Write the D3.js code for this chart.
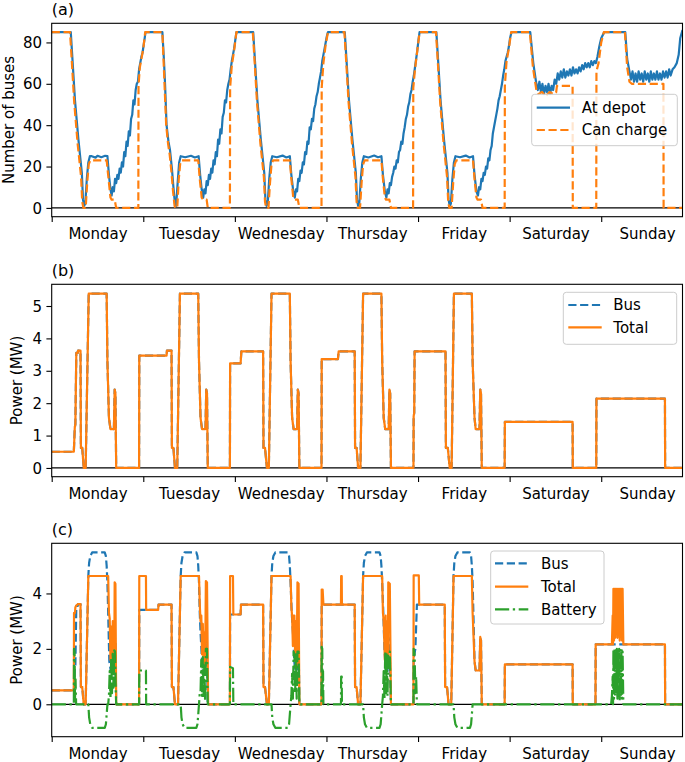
<!DOCTYPE html>
<html><head><meta charset="utf-8">
<script src="https://cdnjs.cloudflare.com/ajax/libs/d3/7.8.5/d3.min.js"></script>
<style>body{margin:0;background:#fff}svg text{font-family:"DejaVu Sans";fill:#000}</style>
</head><body>
<svg id="chart" width="685" height="762"></svg>
<script>
// ---------- DATA (hours since Monday 00:00, value) ----------
const dayNames = ["Monday","Tuesday","Wednesday","Thursday","Friday","Saturday","Sunday"];
const dayTicks = [0,24,48,72,96,120,144];
const busesTicks = [0,20,40,60,80];
const powerTicksB = [0,1,2,3,4,5];
const powerTicksC = [0,2,4];

const atDepot = [
[0,85],[5.0,85],[5.5,70],[6.1,52],[7.0,33],[7.9,17],[8.2,4],[8.5,1],[8.8,2],[9.2,14],[9.6,22],[10.0,25],[10.5,25],[11.5,24.3],[12.0,25.2],[13.0,24.5],[14.0,25.2],[14.6,25],[15.0,16],[15.4,9],
[15.7,6],[16.0,10],[16.3,8],[16.6,14],[16.9,12],[17.2,16],[17.5,14],[17.8,19],[18.1,17],[18.4,22],[18.7,20],[19.0,27],[19.3,25],[19.6,32],[19.9,30],[20.2,37],[20.5,35],[20.8,43],[21.1,45],[21.4,52],[21.7,50],[22.0,57],[22.3,60],[22.6,61],[22.9,67],[23.2,70],[23.5,73],[23.8,75],[24.2,80],[24.6,85],
[29.0,85],[29.4,72],[29.7,60],[30.1,40],[30.6,32],[31.0,28],[31.5,19],[31.9,10],[32.3,2],[32.6,1],[33.0,12],[33.4,22],[33.8,25],[35.0,24.5],[36.5,25.2],[37.5,24.4],[38.5,25],[38.9,16],[39.3,9],
[39.7,5],[40.0,9],[40.3,7],[40.6,13],[40.9,11],[41.2,16],[41.5,14],[41.8,19],[42.1,17],[42.4,23],[42.7,21],[43.0,27],[43.3,25],[43.6,33],[43.9,31],[44.2,38],[44.5,36],[44.8,44],[45.1,46],[45.4,52],[45.7,51],[46.0,57],[46.3,60],[46.6,62],[46.9,67],[47.2,71],[47.5,74],[47.8,77],[48.1,81],[48.4,85],
[52.8,85],[53.3,70],[53.9,52],[54.8,33],[55.7,17],[56.0,4],[56.3,1],[56.6,2],[57.0,14],[57.4,22],[57.8,25],[59.0,24.5],[60.5,25.3],[61.5,24.4],[62.4,25],[62.8,16],[63.3,8],
[63.7,5],[64.0,9],[64.3,8],[64.6,14],[64.9,13],[65.2,18],[65.5,17],[65.8,22],[66.1,21],[66.4,27],[66.7,26],[67.0,32],[67.3,31],[67.6,39],[67.9,38],[68.2,43],[68.5,42],[68.8,48],[69.1,50],[69.4,54],[69.7,56],[70.0,60],[70.3,63],[70.6,66],[70.9,71],[71.2,74],[71.5,77],[71.8,80],[72.1,83],[72.4,85],
[76.8,85],[77.3,70],[77.9,52],[78.8,33],[79.7,17],[80.0,4],[80.3,1],[80.6,2],[81.0,14],[81.4,22],[81.8,25],[83.0,24.4],[84.5,25.3],[85.5,24.5],[86.4,25],[86.8,16],[87.3,8],
[87.7,5],[88.0,9],[88.3,7],[88.6,12],[88.9,11],[89.2,15],[89.5,17],[89.8,20],[90.1,19],[90.4,23],[90.7,22],[91.0,27],[91.3,28],[91.6,32],[91.9,31],[92.2,36],[92.5,39],[92.8,43],[93.1,45],[93.4,49],[93.7,51],[94.0,55],[94.3,57],[94.6,61],[94.9,64],[95.2,68],[95.5,72],[95.8,76],[96.1,81],[96.4,85],
[100.8,85],[101.3,70],[101.9,52],[102.8,33],[103.7,17],[104.0,4],[104.3,1],[104.6,2],[105.0,14],[105.4,22],[105.8,25],[107.0,24.5],[108.5,25.3],[109.5,24.4],[110.4,25],[110.8,16],[111.3,8],
[111.7,6],[112.0,10],[112.3,9],[112.6,14],[112.9,13],[113.2,17],[113.5,16],[113.8,20],[114.1,19],[114.4,24],[114.7,23],[115.0,28],[115.3,30],[115.6,36],[115.9,39],[116.2,42],[116.5,45],[116.8,48],[117.1,52],[117.4,54],[117.7,57],[118.0,60],[118.3,64],[118.6,67],[118.9,71],[119.2,73],[119.5,75],[119.8,78],[120.1,82],[120.5,85],
[125.4,85],[126.2,70],[127.0,60],[127.4,57],[127.8,61],[128.2,56],[128.6,60],[129.0,55],[129.4,59],[129.8,56],[130.2,60],[130.6,55],[131.0,59],[131.4,57],[131.8,62],[132.2,60],[132.6,65],[133.0,62],[133.4,66],[133.8,63],[134.2,67],[134.6,63],[135.0,66],[135.4,64],[135.8,67],[136.2,64],[136.6,68],[137.0,65],[137.4,67],[137.8,65],[138.2,68],[138.6,66],[139.0,69],[139.4,67],[139.8,70],[140.2,68],[140.6,70],[141.0,68],[141.4,71],[141.8,69],[142.2,71],[142.6,70],[143.0,73],[143.5,78],[144.0,82],[144.8,85],
[150.3,85],[150.8,72],[151.4,66],[151.8,62],[152.2,66],[152.6,61],[153.0,65],[153.4,61],[153.8,66],[154.2,62],[154.6,65],[155.0,61],[155.4,66],[155.8,62],[156.2,65],[156.6,61],[157.0,66],[157.4,62],[157.8,65],[158.2,62],[158.6,66],[159.0,62],[159.4,65],[159.8,62],[160.2,66],[160.6,63],[161.0,66],[161.4,63],[161.8,67],[162.2,64],[162.7,67],[163.2,68],[163.8,70],[164.3,74],[164.7,82],[165.3,86]
];

const canCharge = [
[0,85],[4.8,85],[5.3,70],[5.9,51],[6.8,31],[7.7,15],[8.0,3],[8.3,0],[8.9,0],[9.3,12],[9.7,21],[10.1,23],[14.4,23],[14.9,14],[15.4,5],[15.7,4],[16.5,4],[16.9,0],[22.7,0],[22.75,59],[23.1,68],[23.6,73],[24.0,77],[24.5,85],
[29.0,85],[29.3,72],[29.6,58],[30.0,40],[30.5,31],[30.9,26],[31.4,17],[31.8,8],[32.2,1],[32.4,0],[32.9,0],[33.3,14],[33.7,22],[34.0,23],[38.4,23],[38.8,14],[39.3,5],[39.7,4],[40.6,4],[40.9,0],[46.7,0],[46.75,58],[47.2,69],[47.8,76],[48.4,85],
[52.7,85],[53.2,70],[53.8,51],[54.7,31],[55.6,15],[55.9,3],[56.2,0],[56.8,0],[57.2,12],[57.6,21],[58.0,23],[62.4,23],[62.8,14],[63.3,5],[63.6,4],[64.5,4],[64.9,0],[70.7,0],[70.75,58],[71.2,70],[71.8,79],[72.4,85],
[76.7,85],[77.2,70],[77.8,51],[78.7,31],[79.6,15],[79.9,3],[80.2,0],[80.8,0],[81.2,12],[81.6,21],[82.0,23],[86.4,23],[86.8,14],[87.3,5],[87.6,4],[88.5,4],[88.9,0],[94.7,0],[94.75,58],[95.2,67],[95.8,76],[96.4,85],
[100.7,85],[101.2,70],[101.8,51],[102.7,31],[103.6,15],[103.9,3],[104.2,0],[104.8,0],[105.2,12],[105.6,21],[106.0,23],[110.4,23],[110.8,14],[111.3,5],[111.6,4],[112.5,4],[112.9,0],[118.7,0],[118.75,59],[119.2,71],[119.8,77],[120.4,85],
[125.3,85],[126.1,68],[127.0,57],[127.5,55],[128.5,56],[129.5,54],[130.5,56],[131.5,55],[132.2,56],[132.4,59],[136.5,59],[136.55,0],[142.7,0],[142.75,66],[143.3,70],[144.0,80],[144.7,85],
[150.2,85],[150.8,68],[151.4,61],[152.0,60],[160.3,60],[160.35,0],[165.3,0]
];

const busB = [
[0,0.5],[5.8,0.5],[6.05,1.25],[6.2,1.35],[6.45,3.55],[6.8,3.55],[6.9,3.62],[7.55,3.62],[7.65,0.62],[8.0,0.62],[8.4,0],[8.9,0],[9.7,5.38],[14.4,5.38],[14.6,3.3],[15.0,1.55],[15.4,1.2],[16.3,1.2],[16.5,2.42],[16.7,2.3],[16.9,0],
[22.9,0],[22.95,3.47],[30.1,3.47],[30.2,3.62],[31.4,3.62],[31.5,0.62],[31.9,0.62],[32.3,0],[32.9,0],[33.6,5.38],[38.4,5.38],[38.6,3.3],[39.0,1.55],[39.4,1.2],[40.3,1.2],[40.5,2.42],[40.7,2.3],[40.9,0],
[46.7,0],[46.75,3.23],[49.5,3.23],[49.7,3.6],[55.4,3.6],[55.5,0.62],[55.9,0.62],[56.4,0],[56.9,0],[57.6,5.38],[62.4,5.38],[62.6,3.3],[63.0,1.55],[63.4,1.2],[64.3,1.2],[64.5,2.42],[64.7,2.3],[64.9,0],
[70.7,0],[70.75,3.36],[75.0,3.36],[75.2,3.6],[79.4,3.6],[79.5,0.62],[79.9,0.62],[80.3,0],[80.9,0],[81.6,5.38],[86.4,5.38],[86.6,3.3],[87.0,1.55],[87.4,1.2],[88.3,1.2],[88.5,2.42],[88.7,2.3],[88.9,0],
[94.8,0],[94.85,1.6],[95.0,1.7],[95.1,3.6],[103.2,3.6],[103.3,0.62],[103.8,0.62],[104.3,0],[104.8,0],[105.4,5.38],[110.1,5.38],[110.3,3.3],[110.8,1.55],[111.1,1.2],[112.1,1.2],[112.3,2.42],[112.5,2.3],[112.7,0],
[118.7,0],[118.75,1.42],[136.5,1.42],[136.55,0],[142.7,0],[142.75,2.14],[160.7,2.14],[160.75,0],[165.3,0]
];
const totalB = busB.map(d => d.slice()); // identical in the picture

const busC = [
[0,0.5],[5.8,0.5],[6.05,1.25],[6.2,1.35],[6.45,3.55],[6.8,3.55],[6.9,3.62],[7.55,3.62],[7.65,0.62],[8.0,0.62],[8.4,0],[8.9,0],[9.6,4.63],[9.8,5.1],[10.1,5.35],[10.6,5.48],[13.9,5.48],[14.2,5.35],[14.4,5.0],[14.6,4.4],[14.8,3.3],[15.1,1.55],[15.5,1.2],[16.3,1.2],[16.5,2.42],[16.7,2.3],[16.9,0],
[22.9,0],[22.95,3.41],[27.9,3.41],[28.0,3.6],[31.4,3.6],[31.5,0.62],[31.9,0.62],[32.3,0],[33.1,0],[33.8,4.63],[34.0,5.1],[34.3,5.35],[34.8,5.48],[37.9,5.48],[38.2,5.35],[38.4,5.0],[38.6,4.4],[38.8,3.3],[39.0,2.6],[39.4,1.55],[39.6,1.2],[40.2,1.2],[40.4,2.42],[40.6,2.3],[40.9,0],
[46.7,0],[46.75,3.24],[49.5,3.24],[49.6,3.6],[55.4,3.6],[55.5,0.62],[55.9,0.62],[56.4,0],[56.9,0],[57.6,4.63],[57.8,5.1],[58.1,5.35],[58.6,5.48],[61.9,5.48],[62.2,5.35],[62.4,5.0],[62.6,4.4],[62.9,3.3],[63.3,2.4],[63.6,1.5],[63.9,1.2],[64.3,1.2],[64.5,2.42],[64.7,2.3],[64.9,0],
[70.7,0],[70.75,3.6],[79.4,3.6],[79.5,0.62],[79.9,0.62],[80.3,0],[80.9,0],[81.6,4.63],[81.8,5.1],[82.1,5.35],[82.6,5.48],[85.9,5.48],[86.2,5.35],[86.4,5.0],[86.6,4.4],[86.9,3.3],[87.2,2.0],[87.5,1.3],[88.0,1.2],[88.2,2.42],[88.5,2.3],[88.9,0],
[94.8,0],[94.85,1.65],[95.3,2.0],[95.7,3.6],[103.0,3.6],[103.1,0.62],[103.6,0.62],[104.0,0],[104.7,0],[105.3,4.63],[105.5,5.1],[105.8,5.35],[106.3,5.48],[109.6,5.48],[109.9,5.35],[110.1,5.0],[110.3,4.4],[110.5,3.3],[110.8,1.55],[111.1,1.22],[112.1,1.22],[112.3,2.43],[112.5,2.3],[112.7,0],
[118.7,0],[118.75,1.44],[136.5,1.44],[136.55,0],[142.5,0],[142.55,2.16],[160.7,2.16],[160.75,0],[165.3,0]
];

const totalC = [
[0,0.5],[5.8,0.5],[5.85,3.3],[6.1,3.3],[6.2,3.5],[6.45,3.56],[6.9,3.62],[7.55,3.62],[7.65,0.62],[8.0,0.62],[8.4,0],[8.9,0],[9.6,4.63],[14.8,4.63],[15.0,3.3],[15.2,3.1],[15.4,1.6],[15.6,2.8],[15.8,1.3],[16.0,3.0],[16.2,1.3],[16.4,1.3],[16.5,4.4],[16.7,4.35],[16.9,0],
[22.9,0],[22.95,4.63],[24.7,4.63],[24.75,3.41],[27.9,3.41],[28.0,3.6],[31.4,3.6],[31.5,0.62],[31.9,0.62],[32.3,0],[33.1,0],[33.8,4.63],[38.6,4.63],[38.8,3.6],[39.0,3.0],[39.2,3.2],[39.4,1.8],[39.6,2.9],[39.8,1.5],[40.0,2.6],[40.2,1.3],[40.4,4.45],[40.7,4.4],[41.0,0],
[46.7,0],[46.75,4.63],[47.5,4.63],[47.6,3.24],[49.5,3.24],[49.6,3.6],[55.4,3.6],[55.5,0.62],[55.9,0.62],[56.4,0],[56.9,0],[57.6,4.63],[62.6,4.63],[62.8,3.5],[63.0,3.2],[63.2,2.1],[63.4,3.2],[63.6,3.2],[63.8,1.6],[64.0,3.0],[64.2,1.4],[64.4,4.4],[64.7,4.35],[64.9,0],
[70.7,0],[70.75,4.14],[71.0,4.14],[71.2,3.6],[75.8,3.6],[75.85,4.63],[76.0,4.63],[76.05,3.6],[79.4,3.6],[79.5,0.62],[79.9,0.62],[80.3,0],[80.9,0],[81.6,4.63],[86.6,4.63],[86.8,3.3],[87.0,3.0],[87.3,1.6],[87.5,3.2],[87.7,1.4],[87.9,3.0],[88.1,1.3],[88.2,4.4],[88.6,4.35],[88.9,0],
[94.8,0],[94.85,4.65],[96.2,4.65],[96.3,3.6],[103.0,3.6],[103.1,0.62],[103.6,0.62],[104.0,0],[104.7,0],[105.3,4.63],[110.1,4.63],[110.3,3.3],[110.8,1.55],[111.1,1.22],[112.1,1.22],[112.3,2.43],[112.5,2.3],[112.7,0],
[118.7,0],[118.75,1.44],[136.5,1.44],[136.55,0],[142.5,0],[142.55,2.16],[146.8,2.16],[147.0,3.2],[147.1,2.16],[147.2,4.17],[147.35,2.3],[147.5,4.17],[147.65,2.4],[147.8,4.17],[147.95,2.6],[148.1,4.17],[148.25,2.4],[148.4,4.17],[148.55,2.5],[148.7,4.17],[148.85,2.3],[149.0,4.17],[149.15,2.5],[149.3,4.17],[149.45,2.3],[149.6,4.17],[149.8,2.16],[160.7,2.16],[160.75,0],[165.3,0]
];

const batteryC = [
[0,0],[5.8,0],[5.85,2.0],[6.0,1.9],[6.1,0.2],[6.25,0.9],[6.4,0],[9.6,0],[9.8,-0.47],[10.1,-0.72],[10.6,-0.85],[13.9,-0.85],[14.2,-0.72],[14.4,-0.37],[14.6,0],[14.8,0],[15.0,0.3],[15.2,1.2],[15.4,0.2],[15.6,1.7],[15.8,0.4],[16.0,1.9],[16.2,0.6],[16.4,1.95],[16.6,1.9],[16.8,0.4],[16.9,0],
[22.9,0],[22.95,1.22],[24.7,1.22],[24.75,0],[33.8,0],[34.0,-0.47],[34.3,-0.72],[34.8,-0.85],[37.9,-0.85],[38.2,-0.72],[38.4,-0.37],[38.6,0],[38.8,0.4],[39.0,0.4],[39.2,1.6],[39.4,0.3],[39.6,1.7],[39.8,0.3],[40.0,1.4],[40.2,0.1],[40.4,2.0],[40.7,2.0],[40.9,0],
[46.7,0],[46.75,1.35],[47.5,1.3],[47.6,0],[57.6,0],[57.8,-0.47],[58.1,-0.72],[58.6,-0.85],[61.9,-0.85],[62.2,-0.72],[62.4,-0.37],[62.6,0],[62.8,0.3],[63.0,1.1],[63.2,0.2],[63.4,1.9],[63.6,1.8],[63.8,0.4],[64.0,1.8],[64.2,0.2],[64.4,1.9],[64.7,1.9],[64.9,0],
[70.7,0],[70.75,2.07],[70.9,2.0],[71.0,0.3],[71.1,1.2],[71.2,0],[75.8,0],[75.85,1.0],[76.0,1.0],[76.05,0],[81.6,0],[81.8,-0.47],[82.1,-0.72],[82.6,-0.85],[85.9,-0.85],[86.2,-0.72],[86.4,-0.37],[86.6,0],[86.8,0.3],[87.0,1.2],[87.2,0.2],[87.4,1.9],[87.6,0.4],[87.8,1.8],[88.0,0.3],[88.2,1.9],[88.6,1.9],[88.9,0],
[94.8,0],[94.85,2.0],[95.1,1.8],[95.3,0.4],[95.5,1.0],[95.7,0],[105.3,0],[105.5,-0.47],[105.8,-0.72],[106.3,-0.85],[109.6,-0.85],[109.9,-0.72],[110.1,-0.37],[110.3,0],
[146.6,0],[146.8,0.3],[147.0,1.0],[147.1,0],[147.2,2.0],[147.35,0.2],[147.5,2.0],[147.65,0.3],[147.8,1.95],[147.95,0.4],[148.1,2.0],[148.25,0.2],[148.4,1.9],[148.55,0.3],[148.7,2.0],[148.85,0.1],[149.0,1.95],[149.15,0.3],[149.3,2.0],[149.45,0.2],[149.6,1.9],[149.8,0],[165.3,0]
];

// ---------- DRAWING ----------
const C0 = "#1f77b4", C1 = "#ff7f0e", C2 = "#2ca02c";
const LW = 2.2;
const DASH = "8.2,3.6";
const DASHDOT = "14.2,3.6,2.3,3.6";
const FS = 15;
const svg = d3.select("#chart");
const xLeft = 51.7, xRight = 682.5;
const x = d3.scaleLinear().domain([0,165.3]).range([xLeft, xRight]);

const panels = [
  {label:"(a)", top:23.3, bottom:216.7, dom:[-4.25,89.25], ticks:busesTicks, ylabel:"Number of buses", ylabX:13.5,
   series:[{d:atDepot,c:C0,dash:null,name:"At depot"},{d:canCharge,c:C1,dash:DASH,name:"Can charge"}],
   legend:{x:531.7,y:94.3,w:145.6,h:51.4,rows:[107.7,130],hx:[536.7,570],tx:581.7}},
  {label:"(b)", top:284.3, bottom:476.7, dom:[-0.27,5.67], ticks:powerTicksB, ylabel:"Power (MW)", ylabX:22,
   series:[{d:busB,c:C0,dash:DASH,name:"Bus"},{d:totalB,c:C1,dash:null,name:"Total"}],
   legend:{x:563.3,y:292.3,w:113.4,h:52,rows:[305,327.3],hx:[568.3,601.7],tx:613.3}},
  {label:"(c)", top:543.3, bottom:736.7, dom:[-1.17,5.81], ticks:powerTicksC, ylabel:"Power (MW)", ylabX:22,
   series:[{d:busC,c:C0,dash:DASH,name:"Bus"},{d:totalC,c:C1,dash:null,name:"Total"},{d:batteryC,c:C2,dash:DASHDOT,name:"Battery"}],
   legend:{x:490.7,y:551,w:113.3,h:73,rows:[563.3,586.7,609.3],hx:[495,528.3],tx:541}}
];

panels.forEach((p,i) => {
  const y = d3.scaleLinear().domain(p.dom).range([p.bottom, p.top]);
  const g = svg.append("g");
  const clipId = "clip"+i;
  svg.append("clipPath").attr("id",clipId).append("rect")
    .attr("x",xLeft).attr("y",p.top).attr("width",xRight-xLeft).attr("height",p.bottom-p.top);

  // zero line
  g.append("line").attr("x1",xLeft).attr("x2",xRight).attr("y1",y(0)).attr("y2",y(0))
    .attr("stroke","#000").attr("stroke-width",1.3);

  const line = d3.line().x(d=>x(d[0])).y(d=>y(d[1]));
  const lg = g.append("g").attr("clip-path",`url(#${clipId})`);
  p.series.forEach(s => {
    lg.append("path").attr("d",line(s.d)).attr("fill","none").attr("stroke",s.c)
      .attr("stroke-width",LW).attr("stroke-linejoin","round")
      .attr("stroke-dasharray",s.dash);
  });

  // x axis: ticks at day boundaries, labels at noon
  const xa = g.append("g").attr("transform",`translate(0,${p.bottom})`)
    .call(d3.axisBottom(x).tickValues(dayTicks).tickSize(5.3).tickFormat(""));
  xa.select(".domain").remove();
  xa.selectAll("line").attr("stroke","#000").attr("stroke-width",1.1);
  const xl = g.append("g").attr("transform",`translate(0,${p.bottom})`)
    .call(d3.axisBottom(x).tickValues(dayTicks.map(t=>t+12)).tickSize(0).tickPadding(12.1)
      .tickFormat((d,j)=>dayNames[j]));
  xl.select(".domain").remove();
  xl.selectAll("text").attr("font-size",FS).attr("font-family","DejaVu Sans").attr("fill","#000");

  // y axis
  const ya = g.append("g").attr("transform",`translate(${xLeft},0)`)
    .call(d3.axisLeft(y).tickValues(p.ticks).tickSize(5.3).tickPadding(4.4).tickFormat(d3.format("d")));
  ya.select(".domain").remove();
  ya.selectAll("line").attr("stroke","#000").attr("stroke-width",1.1);
  ya.selectAll("text").attr("font-size",FS).attr("font-family","DejaVu Sans").attr("fill","#000").attr("dy","0.34em");

  // spines
  g.append("rect").attr("x",xLeft).attr("y",p.top).attr("width",xRight-xLeft).attr("height",p.bottom-p.top)
    .attr("fill","none").attr("stroke","#000").attr("stroke-width",1.1);

  // y label
  g.append("text").attr("transform",`translate(${p.ylabX},${(p.top+p.bottom)/2}) rotate(-90)`)
    .attr("text-anchor","middle").attr("font-size",FS).text(p.ylabel);

  // panel label
  g.append("text").attr("x",xLeft).attr("y",p.top-8.3).attr("font-family","DejaVu Serif")
    .attr("font-size",16).text(p.label);

  // legend
  const L = p.legend;
  const lgd = g.append("g");
  lgd.append("rect").attr("x",L.x).attr("y",L.y).attr("width",L.w).attr("height",L.h).attr("rx",3)
    .attr("fill","#fff").attr("fill-opacity",0.8).attr("stroke","#cccccc").attr("stroke-width",1);
  p.series.forEach((s,j) => {
    lgd.append("line").attr("x1",L.hx[0]).attr("x2",L.hx[1]).attr("y1",L.rows[j]).attr("y2",L.rows[j])
      .attr("stroke",s.c).attr("stroke-width",LW).attr("stroke-dasharray",s.dash);
    lgd.append("text").attr("x",L.tx).attr("y",L.rows[j]+5.2).attr("font-size",FS).text(s.name);
  });
});
</script>
</body></html>
